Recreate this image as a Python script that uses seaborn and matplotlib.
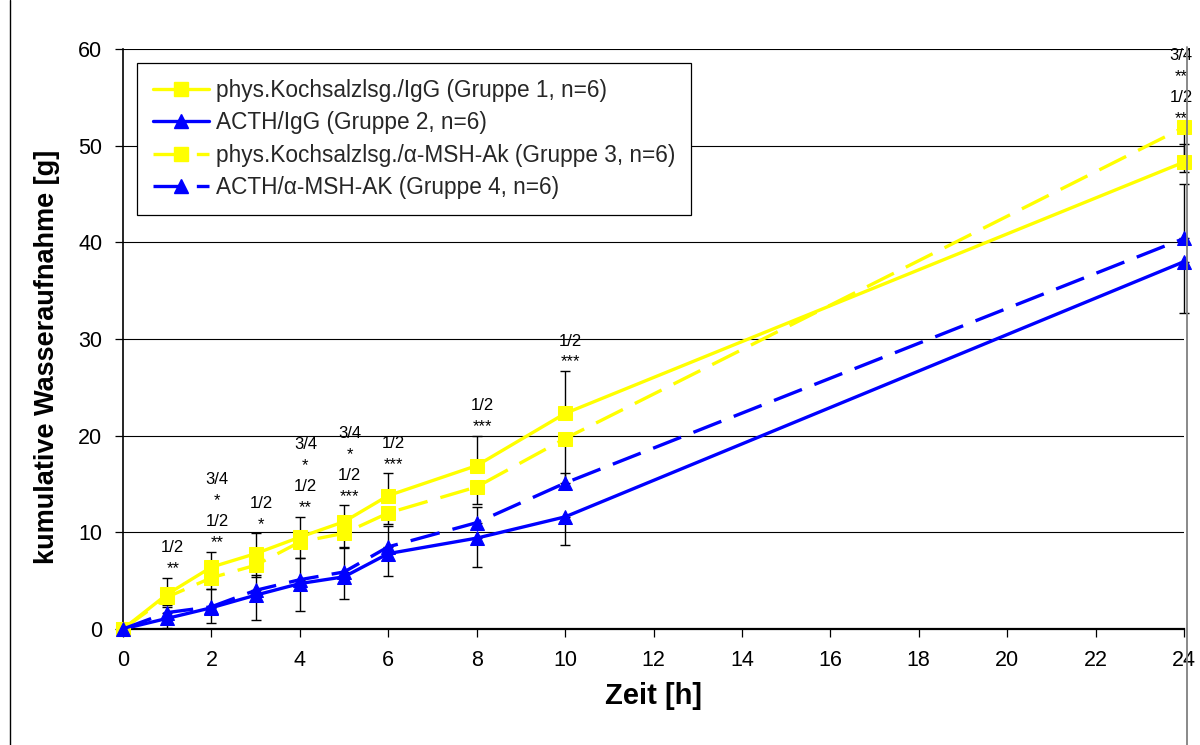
import numpy as np
import pandas as pd
import matplotlib
matplotlib.use("Agg")
import matplotlib.pyplot as plt
import seaborn as sns
from matplotlib.lines import Line2D

# ---------------- data ----------------
zeit = [0, 1, 2, 3, 4, 5, 6, 8, 10, 24]
gruppe1 = [0, 3.6, 6.4, 7.8, 9.5, 11.1, 13.8, 16.9, 22.3, 48.3]
gruppe1_err = [0, 1.7, 1.6, 2.1, 2.1, 1.7, 2.3, 3.1, 4.4, 1.9]      # plotted upward
gruppe2 = [0, 1.1, 2.2, 3.5, 4.7, 5.4, 7.8, 9.4, 11.6, 38.0]
gruppe2_err = [0, 1.0, 1.6, 2.6, 2.8, 2.3, 2.3, 3.0, 2.9, 5.3]      # plotted downward
gruppe3 = [0, 3.3, 5.3, 6.6, 9.0, 9.9, 12.0, 14.7, 19.7, 51.9]
gruppe3_err = [0, 0.8, 1.2, 1.2, 1.7, 1.4, 1.1, 1.8, 5.1, 4.6]      # plotted downward
gruppe4 = [0, 1.7, 2.3, 4.0, 5.1, 5.9, 8.5, 11.0, 15.1, 40.4]
gruppe4_err = [0, 0.6, 1.8, 1.6, 2.2, 2.5, 2.2, 1.6, 1.0, 5.6]      # plotted upward

labels = ["phys.Kochsalzlsg./IgG (Gruppe 1, n=6)",
          "ACTH/IgG (Gruppe 2, n=6)",
          "phys.Kochsalzlsg./α-MSH-Ak (Gruppe 3, n=6)",
          "ACTH/α-MSH-AK (Gruppe 4, n=6)"]

signif_x = [1, 2, 3, 4, 5, 6, 8, 10, 24]
signif_text = ["1/2\n**", "3/4\n*\n1/2\n**", "1/2\n*", "3/4\n*\n1/2\n**",
               "3/4\n*\n1/2\n***", "1/2\n***", "1/2\n***", "1/2\n***",
               "3/4\n**\n1/2\n**"]

xticks = list(range(0, 25, 2))
yticks = list(range(0, 61, 10))

# ---------------- styles ----------------
YELLOW = "#FFFF00"
BLUE = "#0000FF"
colors = [YELLOW, BLUE, YELLOW, BLUE]
markers = ["s", "^", "s", "^"]
dash_styles = ["", "", (9, 4), (9, 4)]

sns.set_theme(style="ticks")
plt.rcParams['font.family'] = ['Liberation Sans', 'DejaVu Sans']

fig = plt.figure(figsize=(12, 7.45), dpi=100)
W, H = 1200, 745
ax = fig.add_axes([123 / W, 1 - 629 / H, (1184 - 123) / W, (629 - 49) / H])

values = [gruppe1, gruppe2, gruppe3, gruppe4]
errs = [gruppe1_err, gruppe2_err, gruppe3_err, gruppe4_err]
df = pd.concat([pd.DataFrame({"Zeit": zeit, "Wert": v, "Gruppe": lab})
                for v, lab in zip(values, labels)], ignore_index=True)

# error bars (one-sided like the original)
directions = ["up", "down", "down", "up"]
for v, e, d in zip(values, errs, directions):
    xs = np.array(zeit[1:], dtype=float)
    ys = np.array(v[1:], dtype=float)
    ee = np.array(e[1:], dtype=float)
    z = np.zeros_like(ee)
    yerr = [z, ee] if d == "up" else [ee, z]
    eb = ax.errorbar(xs, ys, yerr=yerr, fmt="none", ecolor="#000000",
                     elinewidth=1.0, capsize=3.5, capthick=1.0, zorder=1.5)
    for art in eb.lines[1] + eb.lines[2]:
        art.set_clip_on(False)

sns.lineplot(data=df, x="Zeit", y="Wert", hue="Gruppe", style="Gruppe",
             hue_order=labels, style_order=labels,
             palette=dict(zip(labels, colors)),
             markers=dict(zip(labels, markers)),
             dashes=dict(zip(labels, dash_styles)),
             markersize=9.5, linewidth=2.4, sort=False, errorbar=None,
             legend=False, ax=ax)
for ln in ax.lines:
    if ln.get_marker() in ("s", "^"):
        c = ln.get_color()
        ln.set_markeredgecolor(c)
        ln.set_markerfacecolor(c)
        ln.set_zorder(3)
        ln.set_clip_on(False)

# significance annotations
for x, txt in zip(signif_x, signif_text):
    i = zeit.index(x)
    anchor = max(gruppe1[i] + gruppe1_err[i], gruppe3[i])
    dx = 4 if x != 24 else -2
    ax.annotate(txt, xy=(x, anchor), xytext=(dx, 1.0), textcoords="offset points",
                ha="center", va="bottom", fontsize=12, linespacing=1.5,
                color="black", annotation_clip=False, zorder=4)

ax.set_xlim(0, 24)
ax.set_ylim(0, 60)
ax.set_xticks(xticks)
ax.set_yticks(yticks)
ax.tick_params(axis="both", direction="out", length=6, width=0.9, color="black",
               labelsize=15.5, pad=9, labelcolor="black")
ax.set_axisbelow(True)
ax.yaxis.grid(True, color="black", linewidth=0.8)
ax.xaxis.grid(False)
for s in ["top", "right"]:
    ax.spines[s].set_visible(False)
ax.spines["left"].set_color("black")
ax.spines["left"].set_linewidth(1.2)
ax.spines["bottom"].set_color("black")
ax.spines["bottom"].set_linewidth(1.6)

ax.set_xlabel("Zeit [h]", fontsize=21, fontweight="bold", labelpad=8, color="black")
ax.set_ylabel("kumulative Wasseraufnahme [g]", fontsize=19.5, fontweight="bold",
              color="black")
ax.yaxis.set_label_coords(-0.0594, 0.469)

handles = [Line2D([], [], color=c, marker=m, markersize=9.5, markerfacecolor=c,
                  markeredgecolor=c, linewidth=2.4,
                  linestyle="-" if d == "" else (0, d))
           for c, m, d in zip(colors, markers, dash_styles)]
leg = ax.legend(handles, labels, loc="upper left", bbox_to_anchor=(0.0132, 0.976),
                fontsize=16.3, frameon=True, fancybox=False, edgecolor="black",
                framealpha=1, borderpad=0.7, labelspacing=0.42, handlelength=2.5,
                handletextpad=0.3, borderaxespad=0)
leg.get_frame().set_linewidth(0.9)

# chart-area border lines
fig.add_artist(Line2D([10 / W, 10 / W], [0, 1], transform=fig.transFigure,
                      color="black", linewidth=1))
fig.add_artist(Line2D([1187 / W, 1187 / W], [0, 1 - 47 / H], transform=fig.transFigure,
                      color="#808080", linewidth=1.3))

fig.savefig("out.png", dpi=100)
